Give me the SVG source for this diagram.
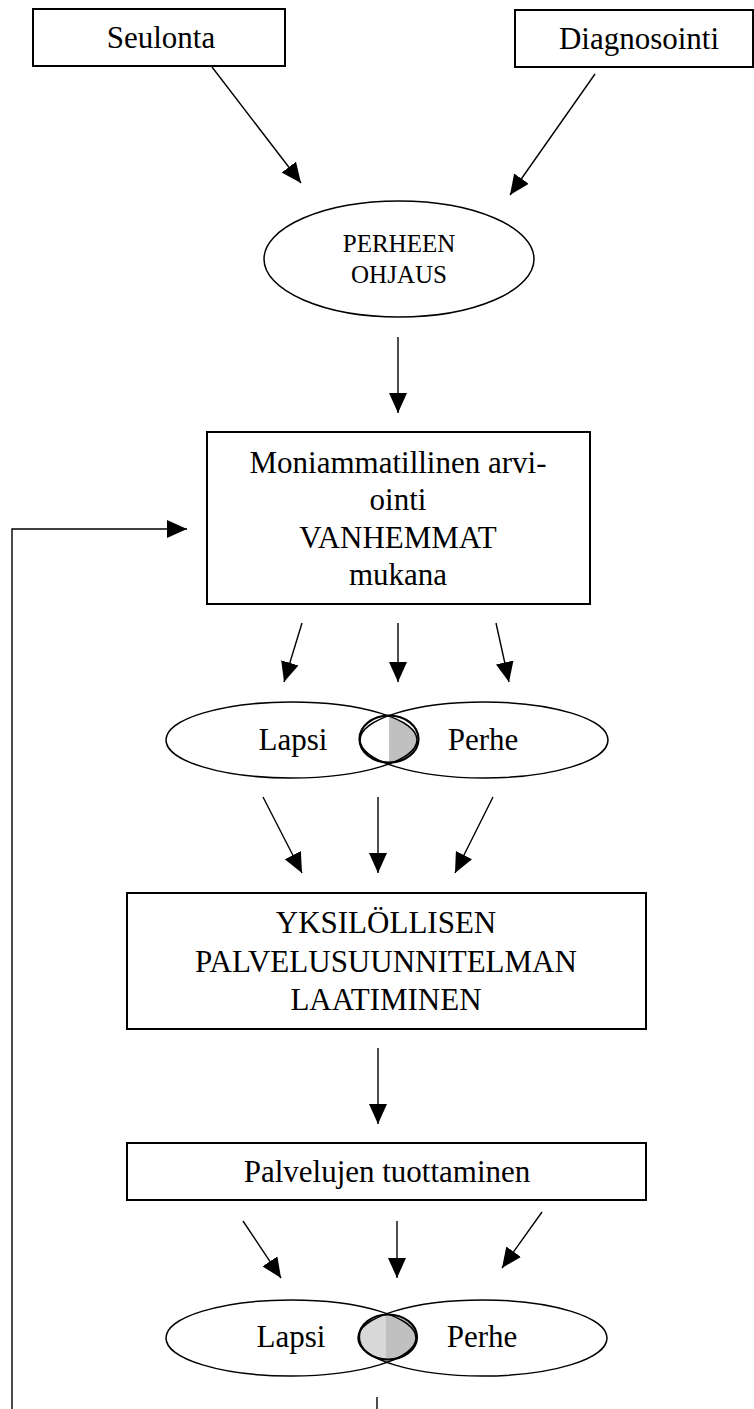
<svg xmlns="http://www.w3.org/2000/svg" width="754" height="1409" viewBox="0 0 754 1409">
<style>
.box{fill:#fff;stroke:#000;stroke-width:2}
.ell{fill:none;stroke:#000;stroke-width:1.5}
.cir{fill:none;stroke:#000;stroke-width:2.2}
.t{font-family:"Liberation Serif","Times New Roman",serif;font-size:31px;fill:#000;text-anchor:middle}
.ts{font-family:"Liberation Serif","Times New Roman",serif;font-size:25px;fill:#000;text-anchor:middle}
.c{fill:none;stroke:#000;stroke-width:1.4}
</style>
<defs>
<marker id="ah" viewBox="0 0 20 18" refX="20" refY="9" markerWidth="20" markerHeight="18" orient="auto" markerUnits="userSpaceOnUse">
<path d="M0,0 L20,9 L0,18 Z" fill="#000"/>
</marker>
<clipPath id="e2a"><ellipse cx="484" cy="740" rx="124" ry="38"/></clipPath>
<clipPath id="e2b"><ellipse cx="482.5" cy="1338" rx="124.5" ry="38"/></clipPath>
<clipPath id="lefthalfA"><rect x="0" y="700" width="389" height="80"/></clipPath>
<clipPath id="lefthalfB"><rect x="0" y="1290" width="386" height="100"/></clipPath>
</defs>
<rect width="754" height="1409" fill="#fff"/>

<g id="seulonta">
<rect class="box" x="33" y="9" width="252" height="57"/>
<text class="t" x="161" y="48">Seulonta</text>
</g>
<g id="diagnosointi">
<rect class="box" x="515" y="10" width="238" height="57"/>
<text class="t" x="639" y="49">Diagnosointi</text>
</g>
<g id="perheen-ohjaus">
<ellipse class="ell" cx="399" cy="259" rx="135" ry="58" fill="#fff"/>
<text class="ts" x="399" y="252">PERHEEN</text>
<text class="ts" x="399" y="283">OHJAUS</text>
</g>
<g id="moniammatillinen">
<rect class="box" x="207" y="432" width="383" height="172"/>
<text class="t" x="398" y="473">Moniammatillinen arvi-</text>
<text class="t" x="398" y="510">ointi</text>
<text class="t" x="398" y="548">VANHEMMAT</text>
<text class="t" x="398" y="585">mukana</text>
</g>
<g id="venn1">
<ellipse cx="291.5" cy="740" rx="125.5" ry="38" fill="#c0c0c0" clip-path="url(#e2a)"/>
<ellipse cx="389" cy="739" rx="29.5" ry="23.5" fill="#fff" clip-path="url(#lefthalfA)"/>
<ellipse class="cir" cx="389" cy="739" rx="29.5" ry="23.5"/>
<ellipse class="ell" cx="291.5" cy="740" rx="125.5" ry="38"/>
<ellipse class="ell" cx="484" cy="740" rx="124" ry="38"/>
<text class="t" x="293" y="750">Lapsi</text>
<text class="t" x="483" y="750">Perhe</text>
</g>
<g id="yksilollisen">
<rect class="box" x="127" y="893" width="519" height="136"/>
<text class="t" x="386" y="933">YKSILÖLLISEN</text>
<text class="t" x="386" y="972">PALVELUSUUNNITELMAN</text>
<text class="t" x="386" y="1010">LAATIMINEN</text>
</g>
<g id="palvelujen">
<rect class="box" x="127" y="1143" width="519" height="57"/>
<text class="t" x="387" y="1182">Palvelujen tuottaminen</text>
</g>
<g id="venn2">
<ellipse cx="291" cy="1338" rx="125" ry="38" fill="#c4c4c4" clip-path="url(#e2b)"/>
<ellipse cx="388" cy="1337" rx="29" ry="22.5" fill="#c0c0c0"/>
<ellipse cx="388" cy="1337" rx="29" ry="22.5" fill="#d8d8d8" clip-path="url(#lefthalfB)"/>
<ellipse class="cir" cx="388" cy="1337" rx="29" ry="22.5"/>
<ellipse class="ell" cx="291" cy="1338" rx="125" ry="38"/>
<ellipse class="ell" cx="482.5" cy="1338" rx="124.5" ry="38"/>
<text class="t" x="291" y="1347">Lapsi</text>
<text class="t" x="482" y="1347">Perhe</text>
</g>

<g id="connectors">
<line class="c" x1="212" y1="67" x2="301" y2="183" marker-end="url(#ah)"/>
<line class="c" x1="595" y1="74" x2="510" y2="195" marker-end="url(#ah)"/>
<line class="c" x1="398" y1="337" x2="398" y2="413" marker-end="url(#ah)"/>
<polyline class="c" points="12,1409 12,529 187,529" marker-end="url(#ah)"/>
<line class="c" x1="302" y1="623" x2="284" y2="682" marker-end="url(#ah)"/>
<line class="c" x1="398" y1="623" x2="398" y2="682" marker-end="url(#ah)"/>
<line class="c" x1="496" y1="623" x2="509" y2="682" marker-end="url(#ah)"/>
<line class="c" x1="263" y1="797" x2="302" y2="873" marker-end="url(#ah)"/>
<line class="c" x1="378" y1="797" x2="378" y2="873" marker-end="url(#ah)"/>
<line class="c" x1="493" y1="797" x2="455" y2="873" marker-end="url(#ah)"/>
<line class="c" x1="378" y1="1048" x2="378" y2="1124" marker-end="url(#ah)"/>
<line class="c" x1="243" y1="1221" x2="281" y2="1278" marker-end="url(#ah)"/>
<line class="c" x1="397" y1="1221" x2="397" y2="1278" marker-end="url(#ah)"/>
<line class="c" x1="542" y1="1212" x2="502" y2="1268" marker-end="url(#ah)"/>
<line class="c" x1="377" y1="1397" x2="377" y2="1409"/>
</g>
</svg>
